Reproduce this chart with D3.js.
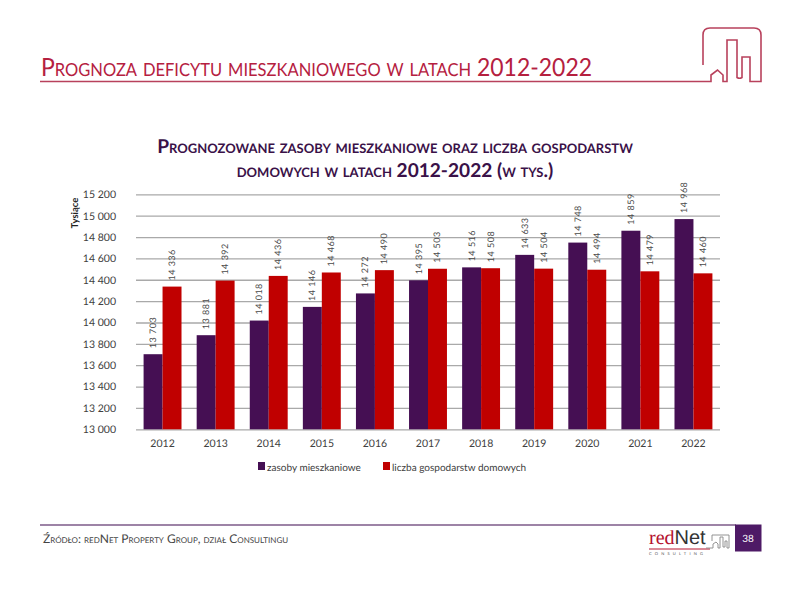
<!DOCTYPE html>
<html><head><meta charset="utf-8">
<script src="https://cdn.jsdelivr.net/npm/d3@7"></script>
<style>
html,body{margin:0;padding:0;background:#fff}
svg{display:block}
text{font-family:Lato,"Open Sans",sans-serif;text-rendering:geometricPrecision}
.sc{font-variant:small-caps}
</style></head><body><svg id="c" width="788" height="591"></svg>
<script>
const years=["2012","2013","2014","2015","2016","2017","2018","2019","2020","2021","2022"];
const zasoby=[13703,13881,14018,14146,14272,14395,14516,14633,14748,14859,14968];
const gospodarstwa=[14336,14392,14436,14468,14490,14503,14508,14504,14494,14479,14460];
const seriesNames=["zasoby mieszkaniowe","liczba gospodarstw domowych"];
const yTicks=[13000,13200,13400,13600,13800,14000,14200,14400,14600,14800,15000,15200];
const mainTitle="Prognoza deficytu mieszkaniowego w latach 2012-2022";
const chartTitle=["Prognozowane zasoby mieszkaniowe oraz liczba gospodarstw","domowych w latach 2012-2022 (w tys.)"];
const sourceText="Źródło: redNet Property Group, dział Consultingu";
const pageNo="38";

const PURPLE="#450f53",RED="#c00000",CRIM="#b5203f";
const svg=d3.select("#c");
const fmt=v=>String(v).replace(/(\d{2})(\d{3})/,"$1 $2");

// page header
svg.append("text").attr("class","sc").attr("x",41).attr("y",76).attr("font-size",25)
 .attr("textLength",551).attr("lengthAdjust","spacingAndGlyphs").attr("fill",CRIM).text(mainTitle);
svg.append("path").attr("fill","none").attr("stroke","#b8415c").attr("stroke-width",1.6)
 .attr("d","M40,81.5H711V75L717.5,70L723,75V81.5H727V40H737V77.5Q739.5,79 742,77.5V57H750V81.5H761V35Q761,28 754,28H710Q703,28 703,35V65");

// chart title
svg.append("g").selectAll("text").data(chartTitle).join("text").attr("class","sc")
 .attr("x",395).attr("y",(d,i)=>153+i*24).attr("text-anchor","middle")
 .attr("font-size",19.1).attr("font-weight",700).attr("fill","#3a1148").text(d=>d);

// scales
const x=d3.scaleBand().domain(years).range([136,720]);
const y=d3.scaleLinear().domain([13000,15200]).range([429.3,194.3]);
const inner=d3.scaleBand().domain([0,1]).range([0,x.bandwidth()]).paddingOuter(0.4);

// gridlines
const gridG=svg.append("g").attr("transform","translate(136,0)")
 .call(d3.axisLeft(y).tickValues(yTicks).tickSize(-584).tickFormat(""));
gridG.select(".domain").remove();
gridG.selectAll("line").attr("stroke","#a9a9a9").attr("stroke-width",1.3);

// axes labels
const yA=svg.append("g").attr("transform","translate(120,0)")
 .call(d3.axisLeft(y).tickValues(yTicks).tickSize(0).tickPadding(4).tickFormat(fmt));
yA.select(".domain").remove();
yA.selectAll("text").attr("font-size",10.5).attr("fill","#404040").style("font-family","Lato");
const xA=svg.append("g").attr("transform","translate(0,429.3)")
 .call(d3.axisBottom(x).tickSize(0).tickPadding(10));
xA.select(".domain").remove();
xA.selectAll("text").attr("font-size",10.5).attr("fill","#404040").style("font-family","Lato");
svg.append("text").attr("transform","translate(78,213) rotate(-90)").attr("text-anchor","middle")
 .attr("font-size",9.5).attr("font-weight",700).attr("fill","#222").text("Tysiące");

// bars + labels
[zasoby,gospodarstwa].forEach((vals,s)=>{
 const col=s?RED:PURPLE;
 const g=svg.append("g");
 g.selectAll("rect").data(vals).join("rect")
  .attr("x",(d,i)=>x(years[i])+inner(s)).attr("width",inner.bandwidth())
  .attr("y",d=>y(d)).attr("height",d=>y(13000)-y(d)).attr("fill",col);
 g.selectAll("text").data(vals).join("text")
  .attr("transform",(d,i)=>`translate(${x(years[i])+inner(s)+inner.bandwidth()/2+3},${y(d)-6}) rotate(-90)`)
  .attr("font-size",9).attr("letter-spacing",0.5).attr("fill","#4a4a4a").text(fmt);
});

// legend
const legX=[258,383];
const leg=svg.append("g").selectAll("g").data(seriesNames).join("g").attr("transform",(d,i)=>`translate(${legX[i]},462)`);
leg.append("rect").attr("width",7).attr("height",8).attr("fill",(d,i)=>i?RED:PURPLE);
leg.append("text").attr("x",9).attr("y",8.5).attr("font-size",10).attr("fill","#404040").text(d=>d);

// footer
svg.append("line").attr("x1",40).attr("x2",736).attr("y1",525).attr("y2",525).attr("stroke","#7d5a88").attr("stroke-width",1.6);
svg.append("rect").attr("x",735).attr("y",524.5).attr("width",26.5).attr("height",27).attr("fill","#4e1a66");
svg.append("text").attr("x",748).attr("y",542).attr("text-anchor","middle").attr("font-size",10).attr("fill","#fff").text(pageNo);
svg.append("text").attr("class","sc").attr("x",43).attr("y",543).attr("font-size",12).attr("fill","#444").text(sourceText);

// logo
const logo=svg.append("text").attr("x",649).attr("y",544).attr("font-size",20).style("font-family","'Liberation Serif'");
logo.append("tspan").attr("fill","#b5122f").text("red");
logo.append("tspan").attr("fill","#333").style("font-family","'Liberation Sans'").text("Net");
svg.append("line").attr("x1",649).attr("x2",710).attr("y1",549).attr("y2",549).attr("stroke","#b5122f").attr("stroke-width",1);
svg.append("path").attr("fill","none").attr("stroke","#888").attr("stroke-width",0.9)
 .attr("d","M706,548H713V544L716,542L718,544V548H720V537H723V547H725V541H727V548H729V535H712V541");
svg.append("text").attr("x",649).attr("y",555).attr("font-size",4).attr("letter-spacing",3.2).attr("fill","#555").text("CONSULTING");
</script></body></html>
